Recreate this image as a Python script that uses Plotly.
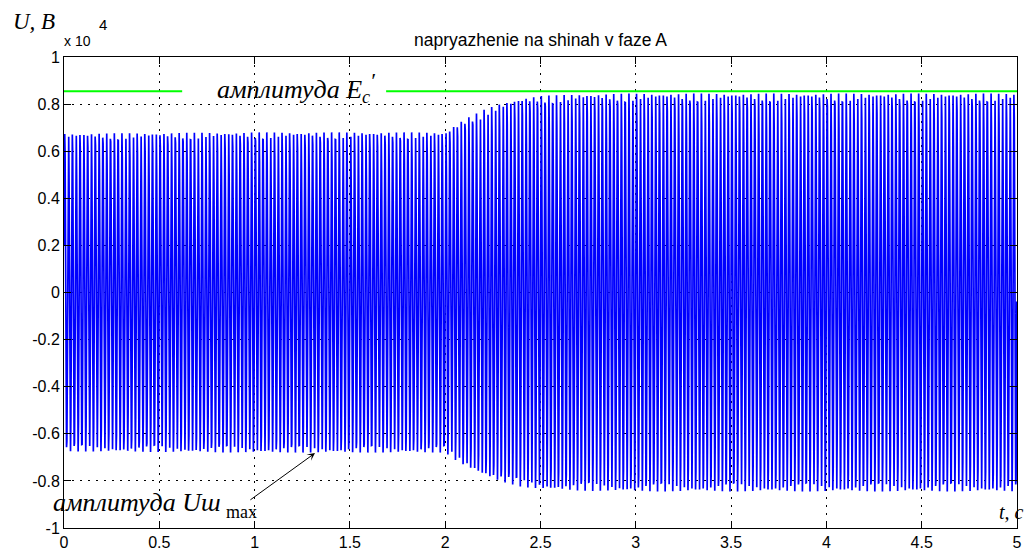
import numpy as np
import plotly.graph_objects as go

# --- data (voltage in units of 10^4 V) ---
env_t   = [0.0, 1.0, 2.0, 2.05, 2.1, 2.2, 2.3, 2.4, 2.5, 2.7, 3.0, 5.0]
env_pos = [0.675, 0.68, 0.68, 0.71, 0.735, 0.775, 0.805, 0.825, 0.835, 0.842, 0.845, 0.845]
freq_hz = 50.0
sample_step = 0.0019
t_end = 5.0

ec_level = 0.855              # amplitude E'c (green line)
ec_segments_t = [0.0, 0.62, None, 1.69, 5.0]

x_ticks = [0, 0.5, 1, 1.5, 2, 2.5, 3, 3.5, 4, 4.5, 5]
x_ticklabels = ["0", "0.5", "1", "1.5", "2", "2.5", "3", "3.5", "4", "4.5", "5"]
y_ticks = [1, 0.8, 0.6, 0.4, 0.2, 0, -0.2, -0.4, -0.6, -0.8, -1]
y_ticklabels = ["1", "0.8", "0.6", "0.4", "0.2", "0", "-0.2", "-0.4", "-0.6", "-0.8", "-1"]

# --- signal ---
t = np.arange(0.0, t_end + 1e-9, sample_step)
amp = np.interp(t, env_t, env_pos)
u = amp * np.sin(2 * np.pi * freq_hz * t + 0.3)

fig = go.Figure()
fig.add_trace(go.Scatter(x=t, y=u, mode="lines",
                         line=dict(color="#0000FF", width=1.7), hoverinfo="skip"))
ec_y = [ec_level if v is not None else None for v in ec_segments_t]
fig.add_trace(go.Scatter(x=ec_segments_t, y=ec_y, mode="lines",
                         line=dict(color="#00FF00", width=2), connectgaps=False,
                         hoverinfo="skip"))

tick_font = dict(family="Liberation Sans, Arial, sans-serif", size=16, color="black")
axis_common = dict(showline=True, linecolor="black", linewidth=1, mirror="allticks",
                   ticks="inside", ticklen=7, tickwidth=1, tickcolor="black",
                   showgrid=True, gridcolor="black", griddash="1.5px,6.5px", gridwidth=1.2,
                   zeroline=False, tickfont=tick_font, automargin=False)

fig.update_xaxes(range=[0, 5], tickmode="array", tickvals=x_ticks, ticktext=x_ticklabels,
                 **axis_common)
fig.update_yaxes(range=[-1, 1], tickmode="array", tickvals=y_ticks, ticktext=y_ticklabels,
                 **axis_common)

# page has an 8px body margin: size the figure so the plot area lands where the reference has it
BODY = 8
fig_w, fig_h = 1032 - BODY, 554 - BODY
P_L, P_R, P_T, P_B = 64, 1017, 57, 528          # plot area in page pixels
m_l, m_t = P_L - BODY, P_T - BODY
m_r = fig_w - (P_R - BODY)
m_b = fig_h - (P_B - BODY)


def px(xp, yp):
    return (xp - P_L) / (P_R - P_L), 1 - (yp - P_T) / (P_B - P_T)


serif = "Liberation Serif, Times New Roman, serif"
sans = "Liberation Sans, Arial, sans-serif"
anns = [
    # (text, x, y, xanchor, family, size)
    ("napryazhenie na shinah v faze A", 540.5, 40, "center", sans, 17.5),
    ("<i>U, B</i>", 11, 21, "left", serif, 23),
    ("x 10", 62, 41, "left", sans, 14),
    ("4", 97, 24, "left", sans, 15),
    ("<i>t, с</i>", 997, 512, "left", serif, 20),
    ("<i>амплитуда E<sub>c</sub></i>", 215, 91, "left", serif, 26),
    ("<i>амплитуда Uш</i>", 51, 502, "left", serif, 26),
    ("max", 224, 512, "left", serif, 18),
    ("<i>′</i>", 368, 80, "left", serif, 22),
]
layout_anns = []
for text, xp, yp, xa, fam, sz in anns:
    x, y = px(xp, yp)
    layout_anns.append(dict(text=text, x=x, y=y, xref="paper", yref="paper", showarrow=False,
                            xanchor=xa, yanchor="middle",
                            font=dict(family=fam, size=sz, color="black")))
# arrow
layout_anns.append(dict(x=1.317, y=-0.682, ax=0.97, ay=-0.885, xref="x", yref="y", axref="x", ayref="y",
                        text="", showarrow=True, arrowhead=3, arrowsize=1.3, arrowwidth=1,
                        arrowcolor="black"))

fig.update_layout(width=fig_w, height=fig_h, margin=dict(l=m_l, r=m_r, t=m_t, b=m_b, autoexpand=False),
                  plot_bgcolor="white", paper_bgcolor="white", showlegend=False,
                  annotations=layout_anns)

fig.write_html("out.html")
